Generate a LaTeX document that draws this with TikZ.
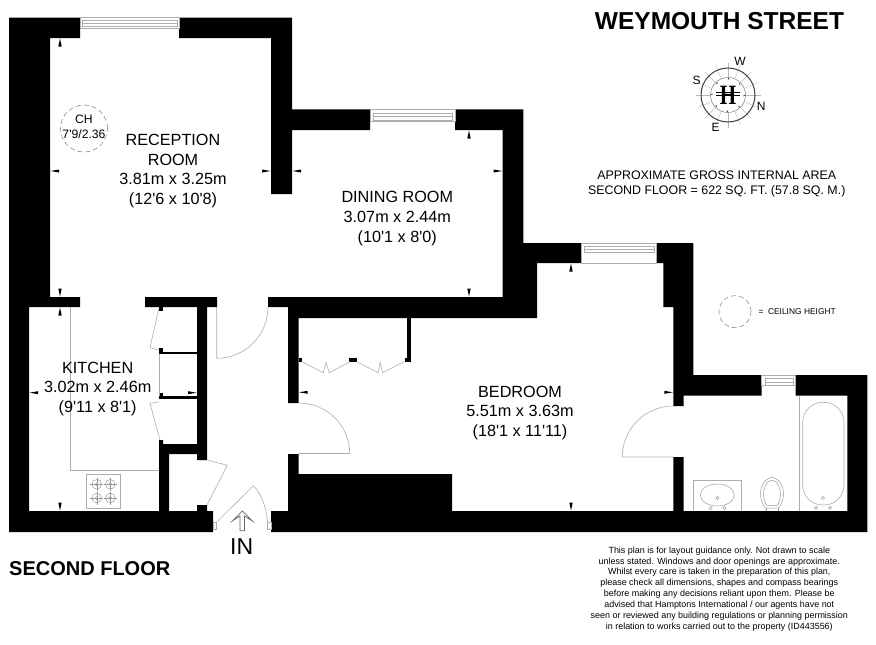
\documentclass[tikz,border=0pt]{standalone}
\usepackage{fontspec}
\usepackage{tikz}
\usetikzlibrary{positioning}
\newfontfamily\planfont{Liberation Sans}
\newfontfamily\crestfont{Liberation Serif}

\begin{document}
\begin{tikzpicture}[x=1pt, y=-1pt,
    wallfill/.style={fill=black},
    thinline/.style={draw=black!32, line width=0.6pt},
    fitting/.style={draw=black!40, line width=0.5pt},
    heightmark/.style={circle, draw=black!45, line width=0.6pt, dash pattern=on 5pt off 3pt, inner sep=0pt},
    roomlabel/.style={font=\planfont\fontsize{16.2}{19.6}\selectfont, align=center, inner sep=0pt},
    smalllabel/.style={font=\planfont\fontsize{12.2}{15}\selectfont, align=center, inner sep=0pt},
    compasslabel/.style={font=\planfont\fontsize{12}{12}\selectfont, inner sep=0pt}]

    \useasboundingbox (0,0) rectangle (876,645);

    % walls
    \fill[wallfill] (9,17.5) -- (80,17.5) -- (80,38) -- (50,38) -- (50,297) -- (80,297) -- (80,307) -- (29,307) -- (29,511) -- (159,511) -- (159,440) -- (163,440) -- (163,444) -- (197,444) -- (197,307) -- (145,307) -- (145,297) -- (217,297) -- (217,307) -- (207,307) -- (207,460) -- (197,460) -- (197,454) -- (169,454) -- (169,511) -- (197,511) -- (197,505) -- (207,505) -- (207,511) -- (213,511) -- (213,532) -- (9,532) -- cycle;
    \fill[wallfill] (179,17.5) -- (292,17.5) -- (292,109.3) -- (370,109.3) -- (370,130) -- (292,130) -- (292,194) -- (271,194) -- (271,38) -- (179,38) -- cycle;
    \fill[wallfill] (455,109.3) -- (523.3,109.3) -- (523.3,243) -- (581.7,243) -- (581.7,263) -- (537,263) -- (537,318) -- (298.7,318) -- (298.7,403) -- (288,403) -- (288,307) -- (268,307) -- (268,297) -- (502.7,297) -- (502.7,130) -- (455,130) -- cycle;
    \fill[wallfill] (656.7,243) -- (693.3,243) -- (693.3,375) -- (761.7,375) -- (761.7,395.7) -- (683.7,395.7) -- (683.7,406) -- (673.3,406) -- (673.3,307) -- (663.3,307) -- (663.3,263) -- (656.7,263) -- cycle;
    \fill[wallfill] (795.7,375) -- (867.3,375) -- (867.3,532) -- (271,532) -- (271,511) -- (288,511) -- (288,454) -- (298.7,454) -- (298.7,474) -- (452,474) -- (452,511) -- (673.3,511) -- (673.3,457) -- (683.7,457) -- (683.7,511) -- (847.3,511) -- (847.3,395.7) -- (795.7,395.7) -- cycle;

    % cupboard shelves and wardrobe
    \foreach \xa/\ya/\xb/\yb in {159/307/163/311, 159/348/163/354, 159/351.7/197/354, 159/393/163/399, 159/396/197/399, 407.3/318/410.7/361.7, 298.7/358/302/361.7, 349.3/358/356.7/361.7, 405/358/410.7/361.7}
        \fill[wallfill] (\xa,\ya) rectangle (\xb,\yb);

    % windows
    \foreach \xa/\ya/\xb/\yb/\xc/\yc/\xd/\yd in {80/17.5/179/28.5/82.3/20.7/177.7/26.7, 370/109.3/455/121.7/373.3/113.3/452.7/120, 581.7/243/656.7/263/584/246.7/654/252.7, 761.7/375.7/795.7/385.7/765/378.3/793.3/385.7} {
        \draw[thinline] (\xa,\ya) rectangle (\xb,\yb);
        \draw[thinline] (\xc,\yc) rectangle (\xd,\yd);
        \draw[thinline] (\xc,\yc/2+\yd/2) -- (\xd,\yc/2+\yd/2);
    }

    % doors
    \draw[thinline] (268,307) .. controls (268,335.5) and (245,358.3) .. (216.7,358.3) -- (216.7,307);
    \draw[thinline] (298.7,403) .. controls (327,403) and (349.7,425.5) .. (349.7,453.5) -- (298.7,453.5);
    \draw[thinline] (673.3,406) .. controls (645,406) and (622.3,429) .. (622.3,457) -- (673.3,457);
    \draw[thinline] (207,460) -- (227.3,465.3) -- (207,505);
    \draw[thinline] (159,308) -- (150,347.7) -- (159,350);
    \draw[thinline] (159,401.7) -- (150,403.3) -- (160,440);
    \draw[thinline] (159,354) -- (159,396);
    \draw[thinline] (216.7,522) -- (253.3,485.7) .. controls (262,494) and (266,508) .. (267.7,522);
    \draw[thinline] (213,522) rectangle (216.7,529.5);
    \draw[thinline] (267.7,522) rectangle (271,529.5);
    \draw[thinline] (301.7,361.7) -- (323.3,372.7) -- (326,362.3) -- (329.3,372.7) -- (350,361.7);
    \draw[thinline] (356.7,361.7) -- (378.3,372.7) -- (380,362.3) -- (382.7,372.7) -- (404,361.7);

    % entrance arrow
    \draw[draw=black!60, line width=0.7pt] (242.3,511) -- (252.3,521) -- (244.5,516) -- (244.5,530.7) -- (240,530.7) -- (240,516) -- (232.3,521) -- cycle;

    % dimension ticks
    \foreach \x/\y in {60/38, 60/307, 469/130, 571/263}
        \fill (\x,\y+0.5) -- (\x+1.7,\y+8.5) -- (\x-1.7,\y+8.5) -- cycle;
    \foreach \x/\y in {60/297, 60/511, 469/297, 571/511}
        \fill (\x,\y-0.5) -- (\x+1.7,\y-8.5) -- (\x-1.7,\y-8.5) -- cycle;
    \foreach \x/\y in {50/171, 292/171, 29/392.7, 298.7/392.3}
        \fill (\x+0.5,\y) -- (\x+9,\y-1.5) -- (\x+9,\y+1.5) -- cycle;
    \foreach \x/\y in {271/171, 502.7/171, 197/392.7, 673.3/392.3}
        \fill (\x-0.5,\y) -- (\x-9,\y-1.5) -- (\x-9,\y+1.5) -- cycle;

    % kitchen fittings
    \draw[thinline] (70.5,307) -- (70.5,470.3) -- (159,470.3);
    \draw[thinline] (86.3,474.3) rectangle (120.7,508.3);
    \foreach \x/\y in {96.7/484.3, 110.3/484.3, 96.7/498, 110.3/498} {
        \draw[fitting] (\x,\y) circle[radius=4.8pt];
        \draw[fitting] (\x,\y) circle[radius=1.6pt];
        \draw[fitting, line width=0.3pt] (\x-6.5,\y) -- (\x+6.5,\y) (\x,\y-6.5) -- (\x,\y+6.5);
    }

    % bathroom fittings
    \draw[thinline] (799.3,395.7) -- (799.3,511);
    \draw[thinline] (693.3,511) -- (693.3,480.7) -- (741.7,480.7) -- (741.7,511);
    \draw[fitting] (717.3,495) ellipse[x radius=17pt, y radius=11pt];
    \draw[thinline, rounded corners=20pt] (802.7,402.3) rectangle (844,505);
    \foreach \x/\y in {717.3/498, 710.7/508, 724.3/508, 816/507.7, 830/507.7, 823/498}
        \draw[fitting] (\x,\y) circle[radius=1.6pt];
    \draw[fitting] (772,477) .. controls (780,479) and (784,488) .. (783.5,495) .. controls (783,502) and (780,507) .. (778,508) -- (766,508) .. controls (764,507) and (761,502) .. (760.5,495) .. controls (760,488) and (764,479) .. (772,477) -- cycle;
    \draw[fitting] (772,480) .. controls (778,481) and (781,489) .. (780.5,495) .. controls (780,501) and (778,505) .. (777,505.5) -- (767,505.5) .. controls (766,505) and (764,501) .. (763.5,495) .. controls (763,489) and (766,481) .. (772,480) -- cycle;
    \draw[fitting] (766,508) -- (766,511) (778,508) -- (778,511);

    % compass
    \foreach \a in {0,22.5,...,337.5}
        \draw[draw=black!28, line width=0.4pt] (728,95) ++(\a:17.5) -- ++(\a:15);
    \draw[draw=black!45, line width=0.6pt] (728,95) circle[radius=17.5pt];
    \draw[draw=black!75, line width=1pt] (728,95) circle[radius=27pt];
    \foreach \a in {0,45,...,315}
        \fill (728,95) ++(\a:15.6) -- ++(\a+90:1.5) -- ++(\a-45:2.1) -- cycle;
    \node[font=\crestfont\bfseries\fontsize{28}{28}\selectfont, inner sep=0pt, xscale=0.75] (crest) at (728,95) {H};
    \draw[line width=0.7pt] (716,92.5) -- (740,92.5) (716,95.5) -- (740,95.5);
    \node[compasslabel] (west) at (740,61) {W};
    \node[compasslabel] (south) at (696.7,80.3) {S};
    \node[compasslabel] (north) at (761.3,106) {N};
    \node[compasslabel] (east) at (715.7,127.7) {E};

    % rooms
    \node[heightmark, minimum size=47pt] (chmark) at (84,128.5) {};
    \node[smalllabel] (ch) at (84,126.8) {CH\\7'9/2.36};
    \node[roomlabel] (reception) at (173,171) {RECEPTION\\ROOM\\3.81m x 3.25m\\(12'6 x 10'8)};
    \node[roomlabel] (dining) at (397.3,218.5) {DINING ROOM\\3.07m x 2.44m\\(10'1 x 8'0)};
    \node[roomlabel] (kitchen) at (97.7,388.7) {KITCHEN\\3.02m x 2.46m\\(9'11 x 8'1)};
    \node[roomlabel] (bedroom) at (520,412.7) {BEDROOM\\5.51m x 3.63m\\(18'1 x 11'11)};
    \node[font=\planfont\fontsize{23}{23}\selectfont, inner sep=0pt] (entrance) at (241.7,546.7) {IN};

    % headings and notes
    \node[font=\planfont\bfseries\fontsize{24.5}{24.5}\selectfont, inner sep=0pt] (street) at (719.5,21) {WEYMOUTH STREET};
    \node[font=\planfont\fontsize{12.4}{15.3}\selectfont, align=center, inner sep=0pt] (area) at (716.7,184) {APPROXIMATE GROSS INTERNAL AREA\\SECOND FLOOR = 622 SQ. FT. (57.8 SQ. M.)};
    \node[heightmark, minimum size=32pt] (keymark) at (735,311.7) {};
    \node[font=\planfont\fontsize{8.4}{10}\selectfont, inner sep=0pt, anchor=west] (keytext) [right=7pt of keymark] {=\ \ CEILING HEIGHT};
    \node[font=\planfont\bfseries\fontsize{20}{20}\selectfont, inner sep=0pt, anchor=west] (floor) at (9,569) {SECOND FLOOR};
    \node[font=\planfont\fontsize{8.95}{10.9}\selectfont, align=center, inner sep=0pt] (disclaimer) at (719.3,589) {This plan is for layout guidance only. Not drawn to scale\\unless stated. Windows and door openings are approximate.\\Whilst every care is taken in the preparation of this plan,\\please check all dimensions, shapes and compass bearings\\before making any decisions reliant upon them. Please be\\advised that Hamptons International / our agents have not\\seen or reviewed any building regulations or planning permission\\in relation to works carried out to the property (ID443556)};

\end{tikzpicture}
\end{document}
